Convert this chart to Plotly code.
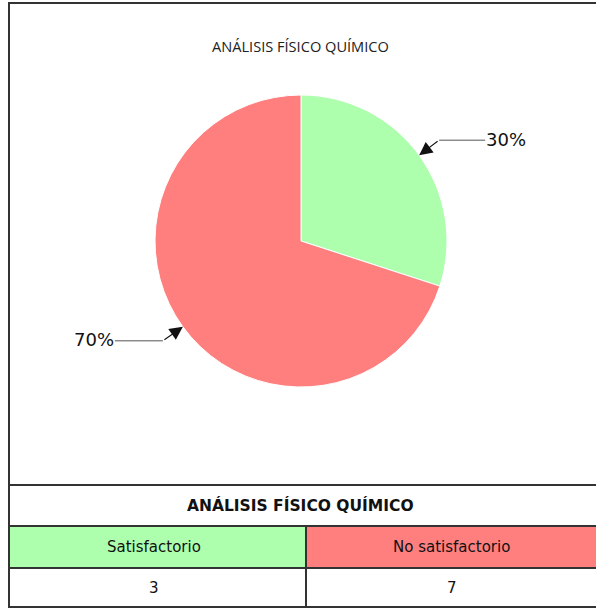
import math
import plotly.graph_objects as go

# ---- data ----
chart_title = "ANÁLISIS FÍSICO QUÍMICO"
categories = ["Satisfactorio", "No satisfactorio"]
counts = [3, 7]
colors = ["#adffad", "#ff7f7f"]

W, H = 596, 609

def px(x):
    return x / W

def py(y):
    return 1 - y / H

# pie geometry (pixels)
CX, CY, R = 301, 241, 146

fig = go.Figure()
fig.add_trace(go.Pie(
    labels=categories, values=counts, sort=False, direction="clockwise", rotation=0,
    marker=dict(colors=colors, line=dict(color="white", width=1)),
    textinfo="none", hoverinfo="label+value+percent", showlegend=False,
    domain=dict(x=[px(CX - R), px(CX + R)], y=[py(CY + R), py(CY - R)]),
))

shapes = []
annotations = []

# percent labels with bent arrows, placed at each slice's mid-angle
total = sum(counts)
cum = 0
label_cfg = [
    dict(elbow=(20, -15), text_dx=87),
    dict(elbow=(-20, 14), text_dx=-89),
]
for i, v in enumerate(counts):
    mid = (cum + v / 2) / total * 2 * math.pi
    cum += v
    tx = CX + R * math.sin(mid)
    ty = CY - R * math.cos(mid)
    cfg = label_cfg[i]
    ex, ey = tx + cfg["elbow"][0], ty + cfg["elbow"][1]
    lx = tx + cfg["text_dx"]
    pct = f"{round(v / total * 100)}%"
    sign = 1 if cfg["text_dx"] > 0 else -1
    line_end = lx - sign * 21
    shapes.append(dict(type="line", xref="paper", yref="paper",
                       x0=px(ex), y0=py(ey), x1=px(line_end), y1=py(ey),
                       line=dict(color="#555", width=1)))
    annotations.append(dict(x=px(tx), y=py(ty), xref="paper", yref="paper",
                            text="", showarrow=True, ax=ex - tx, ay=ey - ty,
                            arrowhead=2, arrowsize=2.4, arrowwidth=1.1, arrowcolor="#111",
                            standoff=0, startstandoff=0))
    annotations.append(dict(x=px(lx), y=py(ey - 1), xref="paper", yref="paper",
                            text=pct, showarrow=False, xanchor="center", yanchor="middle",
                            font=dict(family="DejaVu Sans", size=18, color="#111")))

# chart title
annotations.append(dict(x=px(300), y=py(46), xref="paper", yref="paper",
                        text=chart_title, showarrow=False, xanchor="center", yanchor="middle",
                        font=dict(family="Open Sans", size=14.6, color="#222")))

# ---- table ----
BL, BR = 9, 603
ROW_T, ROW_H1, ROW_H2, ROW_B = 485, 526, 568, 607
LINE = dict(color="#333", width=2)
ncol = len(categories)
colw = (BR - BL) / ncol
TFONT = dict(family="DejaVu Sans", size=15, color="#111")
for i, (cat, val, col) in enumerate(zip(categories, counts, colors)):
    x0 = BL + i * colw
    x1 = x0 + colw
    shapes.append(dict(type="rect", xref="paper", yref="paper", layer="below",
                       x0=px(x0), x1=px(x1), y0=py(ROW_H2), y1=py(ROW_H1),
                       fillcolor=col, line=dict(width=0)))
    annotations.append(dict(x=px((x0 + x1) / 2 - 3), y=py((ROW_H1 + ROW_H2) / 2), xref="paper", yref="paper",
                            text=cat, showarrow=False, xanchor="center", yanchor="middle",
                            font=TFONT))
    annotations.append(dict(x=px((x0 + x1) / 2 - 3), y=py((ROW_H2 + ROW_B) / 2), xref="paper", yref="paper",
                            text=str(val), showarrow=False, xanchor="center", yanchor="middle",
                            font=TFONT))
    if i > 0:
        shapes.append(dict(type="line", xref="paper", yref="paper",
                           x0=px(x0), x1=px(x0), y0=py(ROW_H1), y1=py(ROW_B), line=LINE))

annotations.append(dict(x=px(300), y=py((ROW_T + ROW_H1) / 2), xref="paper", yref="paper",
                        text="<b>" + chart_title + "</b>", showarrow=False,
                        xanchor="center", yanchor="middle",
                        font=dict(family="DejaVu Sans", size=15.5, color="#111")))

for yy in (ROW_T, ROW_H1, ROW_H2):
    shapes.append(dict(type="line", xref="paper", yref="paper",
                       x0=px(BL), x1=px(BR), y0=py(yy), y1=py(yy), line=LINE))

# outer frame
shapes.append(dict(type="rect", xref="paper", yref="paper",
                   x0=px(BL), x1=px(BR), y0=py(ROW_B), y1=py(3), line=LINE))

fig.update_layout(
    width=W, height=H, margin=dict(l=0, r=0, t=0, b=0),
    paper_bgcolor="white", plot_bgcolor="white",
    shapes=shapes, annotations=annotations,
)

fig.write_html("out.html", config={"displayModeBar": False},
               post_script="document.body.style.margin='0';document.body.style.overflow='hidden';")
